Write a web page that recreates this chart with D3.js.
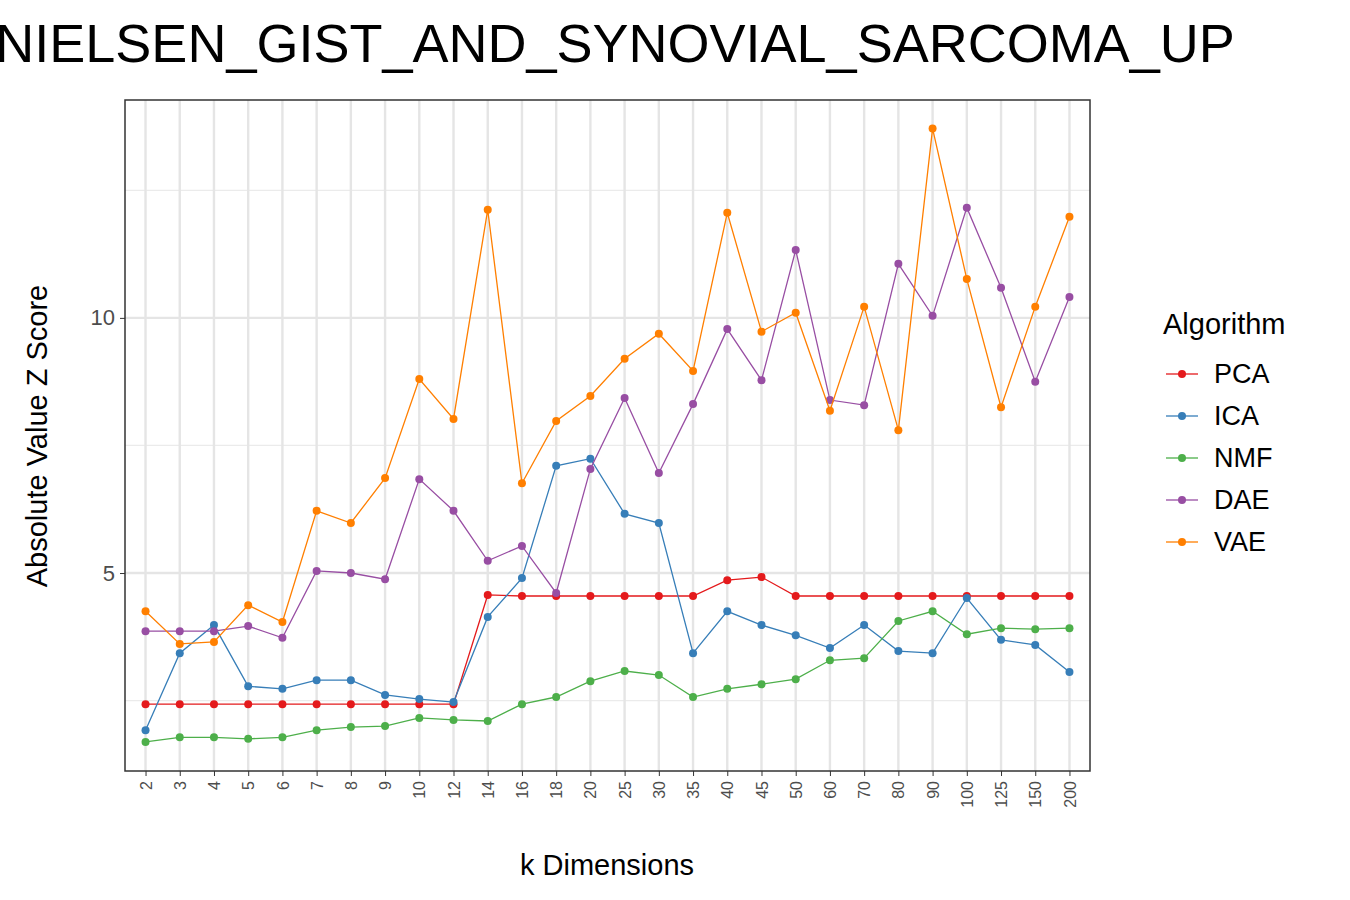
<!DOCTYPE html>
<html><head><meta charset="utf-8">
<script src="https://cdn.jsdelivr.net/npm/d3@7"></script>
<style>body{margin:0;background:#fff}text{font-family:"Liberation Sans",Arial,sans-serif}</style>
</head><body><svg id="c" width="1350" height="900"></svg>
<script>
const kDims = ["2","3","4","5","6","7","8","9","10","12","14","16","18","20","25","30","35","40","45","50","60","70","80","90","100","125","150","200"];
const algorithms = ["PCA","ICA","NMF","DAE","VAE"];
const colors = ["#E41A1C","#377EB8","#4DAF4A","#984EA3","#FF7F00"];
const pca = [2.43,2.43,2.43,2.43,2.43,2.43,2.43,2.43,2.43,2.43,4.57,4.55,4.55,4.55,4.55,4.55,4.55,4.86,4.92,4.55,4.55,4.55,4.55,4.55,4.55,4.55,4.55,4.55];
const ica = [1.92,3.43,3.98,2.78,2.73,2.90,2.90,2.61,2.53,2.47,4.14,4.90,7.10,7.24,6.16,5.98,3.43,4.25,3.98,3.78,3.53,3.98,3.47,3.43,4.51,3.69,3.59,3.06];
const nmf = [1.69,1.78,1.78,1.75,1.78,1.92,1.98,2.0,2.16,2.12,2.10,2.43,2.57,2.88,3.08,3.0,2.57,2.73,2.82,2.92,3.29,3.33,4.06,4.25,3.80,3.92,3.90,3.92];
const dae = [3.86,3.86,3.86,3.96,3.73,5.04,5.0,4.88,6.84,6.22,5.24,5.53,4.61,7.04,8.43,6.96,8.31,9.78,8.78,11.33,8.39,8.29,11.06,10.04,12.16,10.59,8.75,10.41];
const vae = [4.25,3.61,3.65,4.37,4.04,6.22,5.98,6.86,8.80,8.02,12.12,6.76,7.98,8.47,9.20,9.69,8.96,12.06,9.73,10.10,8.18,10.22,7.80,13.71,10.76,8.25,10.22,11.98];
const series = [pca,ica,nmf,dae,vae];
const yTicks = [5,10];
const yMinor = [2.5,7.5,12.5];

const svg = d3.select("#c");
const L=125,R=1090,T=100,B=771;
const x = d3.scalePoint().domain(kDims).range([L,R]).padding(0.6);
const y = d3.scaleLinear().domain([1.12,14.27]).range([B,T]);
const g = svg.append("g");
yMinor.forEach(v=>g.append("line").attr("x1",L).attr("x2",R).attr("y1",y(v)).attr("y2",y(v)).attr("stroke","#ebebeb").attr("stroke-width",1.2));
yTicks.forEach(v=>g.append("line").attr("x1",L).attr("x2",R).attr("y1",y(v)).attr("y2",y(v)).attr("stroke","#e5e5e5").attr("stroke-width",2.4));
kDims.forEach(k=>g.append("line").attr("x1",x(k)).attr("x2",x(k)).attr("y1",T).attr("y2",B).attr("stroke","#e5e5e5").attr("stroke-width",2.4));
const line = d3.line().x((d,i)=>x(kDims[i])).y(d=>y(d));
series.forEach((s,j)=>{
  g.append("path").attr("d",line(s)).attr("fill","none").attr("stroke",colors[j]).attr("stroke-width",1.3);
  g.selectAll(null).data(s).enter().append("circle").attr("cx",(d,i)=>x(kDims[i])).attr("cy",d=>y(d)).attr("r",4).attr("fill",colors[j]);
});
g.append("rect").attr("x",L).attr("y",T).attr("width",R-L).attr("height",B-T).attr("fill","none").attr("stroke","#333").attr("stroke-width",1.5);
const ya = svg.append("g").attr("transform",`translate(${L},0)`).call(d3.axisLeft(y).tickValues(yTicks).tickSize(5).tickPadding(5));
ya.select(".domain").remove();
ya.selectAll("line").attr("stroke","#333");
ya.selectAll("text").attr("font-size",22).attr("fill","#4d4d4d");
const xa = svg.append("g").attr("transform",`translate(0,${B})`).call(d3.axisBottom(x).tickSize(5));
xa.select(".domain").remove();
xa.selectAll("line").attr("stroke","#333");
xa.selectAll("text").attr("font-size",16).attr("fill","#4d4d4d").attr("transform","rotate(-90)").attr("text-anchor","end").attr("dx","-10").attr("dy","0.35em").attr("x",0).attr("y",0);
svg.append("text").attr("x",607).attr("y",875).attr("text-anchor","middle").attr("font-size",29).text("k Dimensions");
svg.append("text").attr("transform","translate(47,436) rotate(-90)").attr("text-anchor","middle").attr("font-size",29).text("Absolute Value Z Score");
svg.append("text").attr("x",615).attr("y",62).attr("text-anchor","middle").attr("font-size",54).text("NIELSEN_GIST_AND_SYNOVIAL_SARCOMA_UP");
svg.append("text").attr("x",1163).attr("y",334).attr("font-size",29).text("Algorithm");
algorithms.forEach((a,i)=>{
  const yy=374+i*42;
  svg.append("line").attr("x1",1166).attr("x2",1198).attr("y1",yy).attr("y2",yy).attr("stroke",colors[i]).attr("stroke-width",1.3);
  svg.append("circle").attr("cx",1182).attr("cy",yy).attr("r",4).attr("fill",colors[i]);
  svg.append("text").attr("x",1214).attr("y",yy+9).attr("font-size",27).text(a);
});
</script></body></html>
